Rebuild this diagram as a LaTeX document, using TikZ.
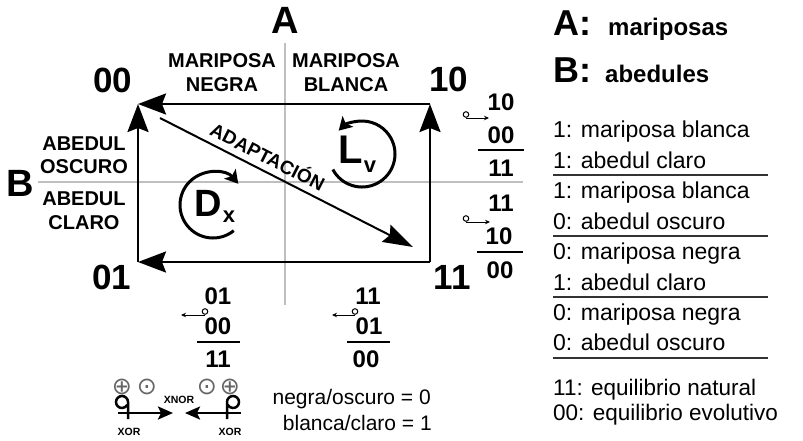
\documentclass[tikz,border=0pt]{standalone}
\usepackage{fontspec}
\setmainfont{Liberation Sans}
\newfontfamily\simbolos{DejaVu Sans}
\usepackage{tikz}
\usetikzlibrary{arrows.meta}
\usetikzlibrary{positioning}

\begin{document}
\begin{tikzpicture}[x=1pt,y=-1pt,
  eje/.style={draw=black!25,line width=2pt},
  lado/.style={line width=2.5pt,-{Stealth[length=28pt,width=21pt,inset=4pt]}},
  giro/.style={line width=3pt,-{Stealth[length=13pt,width=15pt,inset=3pt]}},
  vuelta/.style={line width=1pt,-{Stealth[length=5pt,width=4.5pt]}},
  xorarr/.style={line width=2.5pt,-{Stealth[length=15pt,width=13pt,inset=3pt]}},
  letra/.style={font=\bfseries\fontsize{38}{38}\selectfont,inner sep=0pt},
  esquina/.style={font=\bfseries\fontsize{35}{35}\selectfont,inner sep=0pt},
  rotulo/.style={font=\bfseries\fontsize{20}{24}\selectfont,align=center,inner sep=0pt},
  bit/.style={font=\bfseries\fontsize{24}{24}\selectfont,inner sep=0pt},
  lista/.style={font=\fontsize{23}{23}\selectfont,anchor=base west,inner sep=0pt},
  mini/.style={font=\bfseries\fontsize{10.5}{10.5}\selectfont,inner sep=0pt},
  op/.style={font=\simbolos\fontsize{24}{24}\selectfont,text=black!60,inner sep=0pt}]

\useasboundingbox (0,0) rectangle (803,440);

% ejes A y B
\draw[eje] (285,43) -- (285,305);
\draw[eje] (38,182) -- (523,182);
\node[letra] (A) at (285,20) {A};
\node[letra] (B) at (20,183) {B};

\node[rotulo] (mneg) at (222,73) {MARIPOSA\\NEGRA};
\node[rotulo] (mbla) at (346,73) {MARIPOSA\\BLANCA};
\node[rotulo,font=\bfseries\fontsize{20}{23}\selectfont] (aosc) at (84,155) {ABEDUL\\OSCURO};
\node[rotulo,font=\bfseries\fontsize{20}{24}\selectfont] (acla) at (84,211) {ABEDUL\\CLARO};

% estados
\coordinate (c00) at (138,104);
\coordinate (c10) at (430,104);
\coordinate (c01) at (138,262);
\coordinate (c11) at (430,262);
\node[esquina] (e00) at (113,80) {00};
\node[esquina] (e10) at (449,79) {10};
\node[esquina] (e01) at (112,277) {01};
\node[esquina] (e11) at (452,277) {11};

\draw[lado] (c10) -- (c00);
\draw[lado] (c01) -- (c00);
\draw[lado] (c11) -- (c10);
\draw[lado] (c11) -- (c01);

\coordinate (d0) at (160,118);
\coordinate (d1) at (413,247);
\draw[lado,line width=2pt,-{Stealth[length=30pt,width=19pt,inset=4pt]}] (d0) -- (d1)
  node[pos=0.40,sloped,above=6pt,inner sep=0pt,font=\bfseries\fontsize{19}{19}\selectfont] (adap) {ADAPTACIÓN};

% giros
\coordinate (lc) at (362,154);
\draw[giro] (lc) ++(152:33) arc[start angle=152,end angle=-135,radius=33];
\node[letra,font=\bfseries\fontsize{40}{40}\selectfont] (L) at (351,150) {L};
\node[letra,font=\bfseries\fontsize{22}{22}\selectfont] (Lv) at (370,167) {v};

\coordinate (dc) at (213,205);
\draw[giro] (dc) ++(51:33) arc[start angle=51,end angle=320,radius=33];
\node[letra] (D) at (208,203) {D};
\node[letra,font=\bfseries\fontsize{22}{22}\selectfont] (Dx) at (229,217) {x};

% operaciones a la derecha
\node[bit] (r1a) at (501,102) {10};
\node[bit] (r1b) at (501,135) {00};
\node[bit] (r1c) at (501,168) {11};
\draw[line width=1.5pt] (478,150) -- (524,150);
\coordinate (t1) at (466,118);
\coordinate (h1) at (489,118);
\draw[vuelta] (t1) -- (h1);
\draw[line width=1pt] (t1) ++(0,-3.5) circle[radius=2.8];

\node[bit] (r2a) at (501,203) {11};
\node[bit] (r2b) at (499,236) {10};
\node[bit] (r2c) at (500,270) {00};
\draw[line width=1.5pt] (477,252) -- (523,252);
\coordinate (t2) at (466,222);
\coordinate (h2) at (490,222);
\draw[vuelta] (t2) -- (h2);
\draw[line width=1pt] (t2) ++(0,-3.5) circle[radius=2.8];

% operaciones abajo
\node[bit] (b1a) at (218,296) {01};
\node[bit] (b1b) at (218,326) {00};
\node[bit] (b1c) at (218,359) {11};
\draw[line width=1.5pt] (197,342) -- (240,342);
\coordinate (t3) at (205,315);
\coordinate (h3) at (181,315);
\draw[vuelta] (t3) -- (h3);
\draw[line width=1pt] (t3) ++(0,-3.5) circle[radius=2.8];

\node[bit] (b2a) at (368,296) {11};
\node[bit] (b2b) at (369,326) {01};
\node[bit] (b2c) at (366,359) {00};
\draw[line width=1.5pt] (347,342) -- (390,342);
\coordinate (t4) at (355,315);
\coordinate (h4) at (332,315);
\draw[vuelta] (t4) -- (h4);
\draw[line width=1pt] (t4) ++(0,-3.5) circle[radius=2.8];

% leyenda xor / xnor
\node[op] (opl1) at (122,387) {⊕};
\node[op] (opl2) at (147,387) {⊙};
\node[op] (opr1) at (207,387) {⊙};
\node[op] (opr2) at (230,387) {⊕};
\coordinate (xl0) at (118,413);
\coordinate (xl1) at (173,413);
\draw[xorarr] (xl0) -- (xl1);
\draw[line width=2.5pt] (128,419) -- (128,402) arc[start angle=0,end angle=-330,radius=6];
\coordinate (xr0) at (241,413);
\coordinate (xr1) at (185,413);
\draw[xorarr] (xr0) -- (xr1);
\draw[line width=2.5pt] (227,419) -- (227,402) arc[start angle=180,end angle=510,radius=6];
\node[mini] (xnor) at (179,400) {XNOR};
\node[mini] (xorl) at (129,432) {XOR};
\node[mini] (xorr) at (230,432) {XOR};

\node[font=\fontsize{21}{21}\selectfont,anchor=base east,inner sep=0pt] (neg) at (431,404) {negra/oscuro = 0};
\node[font=\fontsize{21}{21}\selectfont,anchor=base east,inner sep=0pt] (bla) at (432,430) {blanca/claro = 1};

% leyenda de la derecha
\node[font=\bfseries\fontsize{36}{36}\selectfont,anchor=base west,inner sep=0pt] (la) at (553,35) {A:};
\node[font=\bfseries\fontsize{24}{24}\selectfont,anchor=base west,inner sep=0pt] (lam) at (608,35) {mariposas};
\node[font=\bfseries\fontsize{36}{36}\selectfont,anchor=base west,inner sep=0pt] (lb) at (553,82) {B:};
\node[font=\bfseries\fontsize{24}{24}\selectfont,anchor=base west,inner sep=0pt] (lbm) at (605,82) {abedules};

\node[lista] (f1) at (553,137) {1: mariposa blanca};
\node[lista] (f2) at (553,168) {1: abedul claro};
\draw[line width=1.5pt,black!80] (553,175) -- (768,175);
\node[lista] (f3) at (553,198) {1: mariposa blanca};
\node[lista] (f4) at (553,229) {0: abedul oscuro};
\draw[line width=1.5pt,black!80] (553,236) -- (768,236);
\node[lista] (f5) at (553,259) {0: mariposa negra};
\node[lista] (f6) at (553,290) {1: abedul claro};
\draw[line width=1.5pt,black!80] (553,297) -- (768,297);
\node[lista] (f7) at (553,320) {0: mariposa negra};
\node[lista] (f8) at (553,350) {0: abedul oscuro};
\draw[line width=1.5pt,black!80] (553,358) -- (768,358);

\node[lista,font=\fontsize{22.5}{22.5}\selectfont] (eqn) at (553,395) {11: equilibrio natural};
\node[lista,font=\fontsize{22.5}{22.5}\selectfont] (eqe) at (553,420) {00: equilibrio evolutivo};
\end{tikzpicture}
\end{document}
